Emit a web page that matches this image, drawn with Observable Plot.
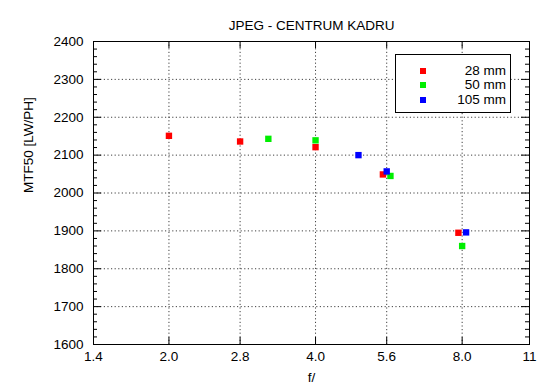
<!DOCTYPE html>
<html>
<head>
<meta charset="utf-8">
<script src="https://cdn.jsdelivr.net/npm/d3@7"></script>
<script src="https://cdn.jsdelivr.net/npm/@observablehq/plot@0.6"></script>
<style>
  html, body { margin: 0; padding: 0; background: #fff; }
  #wrap { position: relative; width: 550px; height: 389px; font-family: "Liberation Sans", Arial, Helvetica, sans-serif; }
  #legend { position: absolute; left: 395px; top: 54px; width: 114px; height: 57px; border: 1px solid #000; background: #fff; font-size: 13.5px; }
  .row { position: absolute; left: 0; right: 0; height: 14px; }
  .sw { position: absolute; left: 24px; top: 4px; width: 6px; height: 6px; }
  .lab { position: absolute; right: 4px; top: -1px; line-height: 15px; }
</style>
</head>
<body>
<div id="wrap"></div>
<script>
// ---- data ----
const seriesNames = ["28 mm", "50 mm", "105 mm"];
const seriesColors = ["#ff0000", "#00ee00", "#0000ff"];

const f28 = [2.0, 2.8, 4.0, 5.5, 7.86];
const mtf28 = [2151, 2136, 2121, 2049, 1895];

const f50 = [3.2, 4.0, 5.7, 8.0];
const mtf50 = [2143, 2139, 2045, 1860];

const f105 = [4.9, 5.6, 8.15];
const mtf105 = [2100, 2057, 1896];

const xTicks = [1.4, 2.0, 2.8, 4.0, 5.6, 8.0, 11];
const xTickLabels = ["1.4", "2.0", "2.8", "4.0", "5.6", "8.0", "11"];
const yTicks = [1600, 1700, 1800, 1900, 2000, 2100, 2200, 2300, 2400];
const yMinorTicks = d3.range(1600, 2401, 20).filter(v => v % 100 !== 0);

const titleText = "JPEG - CENTRUM KADRU";
const xLabel = "f/";
const yLabel = "MTF50 [LW/PH]";

// ---- build ----
const W = 550, H = 389;
const mL = 93, mR = 21, mT = 41, mB = 45;
const frameW = W - mL - mR, frameH = H - mT - mB;

const table = [
  ...f28.map((f, i) => ({f, v: mtf28[i], s: 0})),
  ...f50.map((f, i) => ({f, v: mtf50[i], s: 1})),
  ...f105.map((f, i) => ({f, v: mtf105[i], s: 2}))
];

const xLabelMap = new Map(xTicks.map((t, i) => [String(t), xTickLabels[i]]));

const innerX = xTicks.slice(1, -1);
const innerY = yTicks.slice(1, -1);
const grid = {stroke: "#000", strokeOpacity: 0.75, strokeDasharray: "1.2,2.4", strokeWidth: 1};
const fs = 13.5;

const chart = Plot.plot({
  width: W, height: H,
  marginLeft: mL, marginRight: mR, marginTop: mT, marginBottom: mB,
  style: {fontFamily: "'Liberation Sans', Arial, Helvetica, sans-serif", fontSize: fs + "px", background: "#fff", color: "#000"},
  x: {type: "log", domain: [1.4, 11], axis: null},
  y: {domain: [1600, 2400], axis: null},
  marks: [
    Plot.ruleX(innerX, {x: d => d, ...grid}),
    Plot.ruleY(innerY, {y: d => d, ...grid}),
    // ticks (inward)
    Plot.tickY(yMinorTicks, {y: d => d, insetRight: frameW - 4, stroke: "#000"}),
    Plot.tickY(yMinorTicks, {y: d => d, insetLeft: frameW - 4, stroke: "#000"}),
    Plot.tickY(yTicks, {y: d => d, insetRight: frameW - 8, stroke: "#000"}),
    Plot.tickY(yTicks, {y: d => d, insetLeft: frameW - 8, stroke: "#000"}),
    Plot.tickX(xTicks, {x: d => d, insetTop: frameH - 7, stroke: "#000"}),
    Plot.tickX(xTicks, {x: d => d, insetBottom: frameH - 7, stroke: "#000"}),
    Plot.frame({stroke: "#000"}),
    Plot.text(xTicks, {x: d => d, frameAnchor: "bottom", lineAnchor: "top", dy: 7, text: d => xLabelMap.get(String(d)), fontSize: fs}),
    Plot.text(yTicks, {y: d => d, frameAnchor: "left", textAnchor: "end", dx: -10, text: d => String(d), fontSize: fs}),
    Plot.dot(table, {x: "f", y: "v", symbol: "square", r: 3.6, fill: d => seriesColors[d.s], stroke: "none"}),
    Plot.text([titleText], {frameAnchor: "top", dy: -21, fontSize: fs}),
    Plot.text([xLabel], {frameAnchor: "bottom", dy: 37, fontSize: fs}),
    Plot.text([yLabel], {frameAnchor: "left", dx: -65, rotate: -90, fontSize: fs})
  ]
});

const wrap = document.getElementById("wrap");
wrap.appendChild(chart);

// legend
const legend = document.createElement("div");
legend.id = "legend";
const rowTops = [9, 23, 38];
seriesNames.forEach((name, i) => {
  const row = document.createElement("div");
  row.className = "row";
  row.style.top = rowTops[i] + "px";
  const sw = document.createElement("div");
  sw.className = "sw";
  sw.style.background = seriesColors[i];
  const lab = document.createElement("div");
  lab.className = "lab";
  lab.textContent = name;
  row.appendChild(sw);
  row.appendChild(lab);
  legend.appendChild(row);
});
wrap.appendChild(legend);
</script>
</body>
</html>
